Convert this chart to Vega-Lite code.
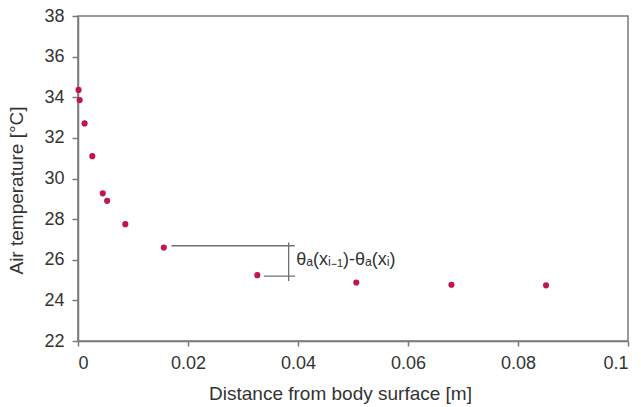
{
  "$schema": "https://vega.github.io/schema/vega-lite/v6.json",
  "width": 550,
  "height": 325,
  "autosize": {"type": "none"},
  "padding": {"left": 78, "top": 16, "right": 13, "bottom": 66},
  "background": "white",
  "config": {
    "font": "Liberation Sans",
    "view": {"stroke": "#7a7a7a", "strokeWidth": 1.5},
    "axis": {
      "grid": false,
      "domainColor": "#7a7a7a",
      "domainWidth": 1.5,
      "tickColor": "#7a7a7a",
      "tickWidth": 1.5,
      "labelColor": "#333333",
      "titleColor": "#333333",
      "labelFontSize": 18,
      "titleFontSize": 19,
      "titleFontWeight": "normal",
      "labelFont": "Liberation Sans",
      "titleFont": "Liberation Sans"
    }
  },
  "datasets": {
    "pts": [
      {"d": 0.0001, "t": 34.36},
      {"d": 0.0003, "t": 33.86},
      {"d": 0.0012, "t": 32.71},
      {"d": 0.0026, "t": 31.1},
      {"d": 0.0045, "t": 29.27},
      {"d": 0.0053, "t": 28.9},
      {"d": 0.0086, "t": 27.75},
      {"d": 0.0156, "t": 26.6},
      {"d": 0.0326, "t": 25.24},
      {"d": 0.0506, "t": 24.88},
      {"d": 0.0679, "t": 24.77},
      {"d": 0.0851, "t": 24.74}
    ],
    "segs": [
      {"x1": 0.0170, "x2": 0.0394, "y1": 26.69, "y2": 26.69},
      {"x1": 0.0338, "x2": 0.0395, "y1": 25.19, "y2": 25.19},
      {"x1": 0.0383, "x2": 0.0383, "y1": 24.95, "y2": 26.85}
    ],
    "lab": [
      {"x": 0.0397, "y": 26.0, "s": "θₐ(xᵢ₋₁)-θₐ(xᵢ)"}
    ]
  },
  "layer": [
    {
      "data": {"name": "segs"},
      "mark": {"type": "rule", "color": "#707070", "strokeWidth": 1.3},
      "encoding": {
        "x": {"field": "x1", "type": "quantitative", "scale": {"domain": [0, 0.1]}},
        "x2": {"field": "x2"},
        "y": {"field": "y1", "type": "quantitative", "scale": {"domain": [22, 38]}},
        "y2": {"field": "y2"}
      }
    },
    {
      "data": {"name": "pts"},
      "mark": {"type": "circle", "color": "#c0164f", "opacity": 1, "size": 38},
      "encoding": {
        "x": {
          "field": "d", "type": "quantitative",
          "scale": {"domain": [0, 0.1], "nice": false},
          "axis": {
            "values": [0, 0.02, 0.04, 0.06, 0.08, 0.1],
            "format": "~g",
            "tickSize": 5,
            "labelPadding": 8,
            "title": "Distance from body surface [m]",
            "titleX": 262,
            "titleY": 58,
            "titleBaseline": "alphabetic",
            "titleAnchor": null
          }
        },
        "y": {
          "field": "t", "type": "quantitative",
          "scale": {"domain": [22, 38], "nice": false, "zero": false},
          "axis": {
            "values": [22, 24, 26, 28, 30, 32, 34, 36, 38],
            "tickSize": 6,
            "labelPadding": 8,
            "title": "Air temperature [°C]",
            "titleAngle": -90,
            "titleX": -56,
            "titleY": 174,
            "titleAlign": "center",
            "titleBaseline": "alphabetic"
          }
        }
      }
    },
    {
      "data": {"name": "lab"},
      "mark": {"type": "text", "align": "left", "baseline": "middle", "fontSize": 18, "color": "#333333", "font": "Liberation Sans"},
      "encoding": {
        "x": {"field": "x", "type": "quantitative"},
        "y": {"field": "y", "type": "quantitative"},
        "text": {"field": "s"}
      }
    }
  ]
}
